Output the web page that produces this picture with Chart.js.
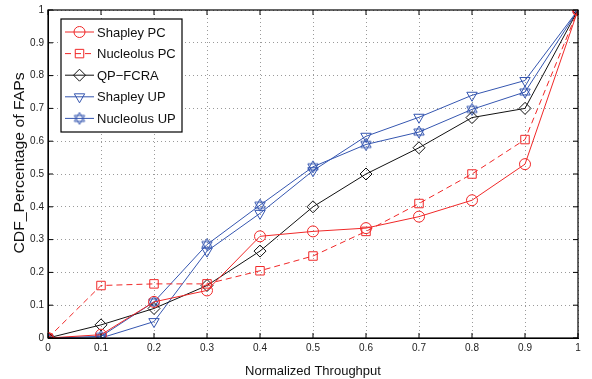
<!DOCTYPE html>
<html>
<head>
<meta charset="utf-8">
<script src="https://cdn.jsdelivr.net/npm/chart.js@4"></script>
<style>
  html, body { margin: 0; padding: 0; background: #fff; }
  #wrap { width: 592px; height: 379px; }
</style>
</head>
<body>
<div id="wrap"><canvas id="cdfChart" width="592" height="379"></canvas></div>
<script>
// Data
const throughput = [0, 0.1, 0.2, 0.3, 0.4, 0.5, 0.6, 0.7, 0.8, 0.9, 1];
const shapleyPC = [0, 0.01, 0.11, 0.145, 0.31, 0.325, 0.335, 0.37, 0.42, 0.53, 1];
const nucleolusPC = [0, 0.16, 0.165, 0.165, 0.205, 0.25, 0.325, 0.41, 0.5, 0.605, 1];
const qpFcra = [0, 0.04, 0.09, 0.16, 0.265, 0.4, 0.5, 0.58, 0.672, 0.7, 1];
const shapleyUP = [0, 0, 0.05, 0.265, 0.38, 0.51, 0.615, 0.673, 0.74, 0.785, 1];
const nucleolusUP = [0, 0.005, 0.11, 0.285, 0.405, 0.522, 0.59, 0.628, 0.697, 0.75, 1];

const seriesNames = ['Shapley PC', 'Nucleolus PC', 'QP\u2212FCRA', 'Shapley UP', 'Nucleolus UP'];
const xTicks = [0, 0.1, 0.2, 0.3, 0.4, 0.5, 0.6, 0.7, 0.8, 0.9, 1];
const yTicks = [0, 0.1, 0.2, 0.3, 0.4, 0.5, 0.6, 0.7, 0.8, 0.9, 1];
const yTitle = 'CDF_Percentage of FAPs';

const RED = '#f02828';
const BLUE = '#3556b0';
const BLACK = '#111111';
const FONT = 'Liberation Sans, Arial, Helvetica, sans-serif';

// Hexagram marker (two overlapping triangles)
function makeHexagram(color) {
    const c = document.createElement('canvas');
    c.width = 14; c.height = 14;
    const g = c.getContext('2d');
    g.strokeStyle = color;
    g.lineWidth = 1;
    const r = 6, cx = 7, cy = 7;
    [ -Math.PI / 2, Math.PI / 2 ].forEach(start => {
        g.beginPath();
        for (let k = 0; k < 3; k++) {
            const a = start + k * 2 * Math.PI / 3;
            const px = cx + r * Math.cos(a), py = cy + r * Math.sin(a);
            if (k === 0) g.moveTo(px, py); else g.lineTo(px, py);
        }
        g.closePath();
        g.stroke();
    });
    return c;
}
const hexagram = makeHexagram(BLUE);

const toPoints = ys => ys.map((y, i) => ({ x: throughput[i], y }));

const datasets = [
    { label: seriesNames[0], data: toPoints(shapleyPC), borderColor: RED, pointStyle: 'circle', pointRadius: 5.5 },
    { label: seriesNames[1], data: toPoints(nucleolusPC), borderColor: RED, borderDash: [6, 4], pointStyle: 'rect', pointRadius: 6 },
    { label: seriesNames[2], data: toPoints(qpFcra), borderColor: BLACK, pointStyle: 'rectRot', pointRadius: 6 },
    { label: seriesNames[3], data: toPoints(shapleyUP), borderColor: BLUE, pointStyle: 'triangle', pointRotation: 180, pointRadius: 6 },
    { label: seriesNames[4], data: toPoints(nucleolusUP), borderColor: BLUE, pointStyle: hexagram, pointRadius: 6 }
].map(ds => Object.assign({
    borderWidth: 1,
    pointBorderColor: ds.borderColor,
    pointBackgroundColor: 'rgba(0,0,0,0)',
    pointBorderWidth: 1,
    tension: 0
}, ds));

// Box, inward ticks, y title and MATLAB-style legend
const matlabFrame = {
    id: 'matlabFrame',
    afterDraw(chart) {
        const { ctx, chartArea: a, scales } = chart;
        ctx.save();
        ctx.strokeStyle = '#000';
        ctx.lineWidth = 1.2;
        ctx.strokeRect(a.left, a.top, a.right - a.left, a.bottom - a.top);

        // inward ticks
        ctx.lineWidth = 1;
        ctx.beginPath();
        xTicks.forEach(v => {
            const px = scales.x.getPixelForValue(v);
            ctx.moveTo(px, a.bottom); ctx.lineTo(px, a.bottom - 5);
            ctx.moveTo(px, a.top); ctx.lineTo(px, a.top + 5);
        });
        yTicks.forEach(v => {
            const py = scales.y.getPixelForValue(v);
            ctx.moveTo(a.left, py); ctx.lineTo(a.left + 5, py);
            ctx.moveTo(a.right, py); ctx.lineTo(a.right - 5, py);
        });
        ctx.stroke();

        // y axis title, slightly stretched like the source figure
        ctx.save();
        ctx.translate(20, 163);
        ctx.rotate(-Math.PI / 2);
        ctx.font = '13px ' + FONT;
        const tw = ctx.measureText(yTitle).width;
        ctx.scale(181 / tw, 1.1);
        ctx.fillStyle = '#111';
        ctx.textAlign = 'center';
        ctx.textBaseline = 'middle';
        ctx.fillText(yTitle, 0, 0);
        ctx.restore();

        // legend
        const lx = 61, ly = 19, lw = 121, lh = 113;
        ctx.fillStyle = '#fff';
        ctx.fillRect(lx, ly, lw, lh);
        ctx.strokeStyle = '#000';
        ctx.lineWidth = 1.2;
        ctx.strokeRect(lx, ly, lw, lh);
        ctx.font = '13px ' + FONT;
        ctx.textBaseline = 'middle';
        ctx.textAlign = 'left';
        chart.data.datasets.forEach((ds, i) => {
            const y = ly + 13 + i * 21.6;
            ctx.save();
            ctx.strokeStyle = ds.borderColor;
            ctx.fillStyle = 'rgba(0,0,0,0)';
            ctx.lineWidth = 1;
            ctx.setLineDash(ds.borderDash || []);
            ctx.beginPath();
            ctx.moveTo(lx + 4, y); ctx.lineTo(lx + 33, y);
            ctx.stroke();
            ctx.setLineDash([]);
            Chart.helpers.drawPoint(ctx, {
                pointStyle: ds.pointStyle,
                rotation: ds.pointRotation || 0,
                radius: ds.pointRadius,
                borderWidth: 1
            }, lx + 18.5, y);
            ctx.restore();
            ctx.fillStyle = '#111';
            ctx.fillText(ds.label, lx + 36, y + 1);
        });
        ctx.restore();
    }
};

new Chart(document.getElementById('cdfChart'), {
    type: 'line',
    data: { datasets },
    plugins: [matlabFrame],
    options: {
        responsive: false,
        animation: false,
        layout: { padding: { top: 8, right: 14, left: 0, bottom: 0 } },
        plugins: { legend: { display: false }, tooltip: { enabled: false } },
        scales: {
            x: {
                type: 'linear',
                min: 0, max: 1,
                afterBuildTicks: s => { s.ticks = xTicks.map(v => ({ value: v })); },
                afterFit: s => { s.height = 41; },
                ticks: {
                    color: '#222',
                    font: { family: FONT, size: 10 },
                    padding: 4,
                    maxRotation: 0,
                    callback: v => String(v)
                },
                grid: { color: '#9a9a9a', lineWidth: 1, drawTicks: false },
                border: { color: '#000', width: 1, dash: [1, 3] },
                title: {
                    display: true,
                    text: 'Normalized Throughput',
                    color: '#111',
                    font: { family: FONT, size: 13 },
                    padding: { top: 2, bottom: 0 }
                }
            },
            y: {
                type: 'linear',
                min: 0, max: 1,
                afterBuildTicks: s => { s.ticks = yTicks.map(v => ({ value: v })); },
                afterFit: s => { s.width = 48; },
                ticks: {
                    color: '#222',
                    font: { family: FONT, size: 10 },
                    padding: 4,
                    callback: v => String(v)
                },
                grid: { color: '#9a9a9a', lineWidth: 1, drawTicks: false },
                border: { color: '#000', width: 1, dash: [1, 3] }
            }
        }
    }
});
</script>
</body>
</html>
